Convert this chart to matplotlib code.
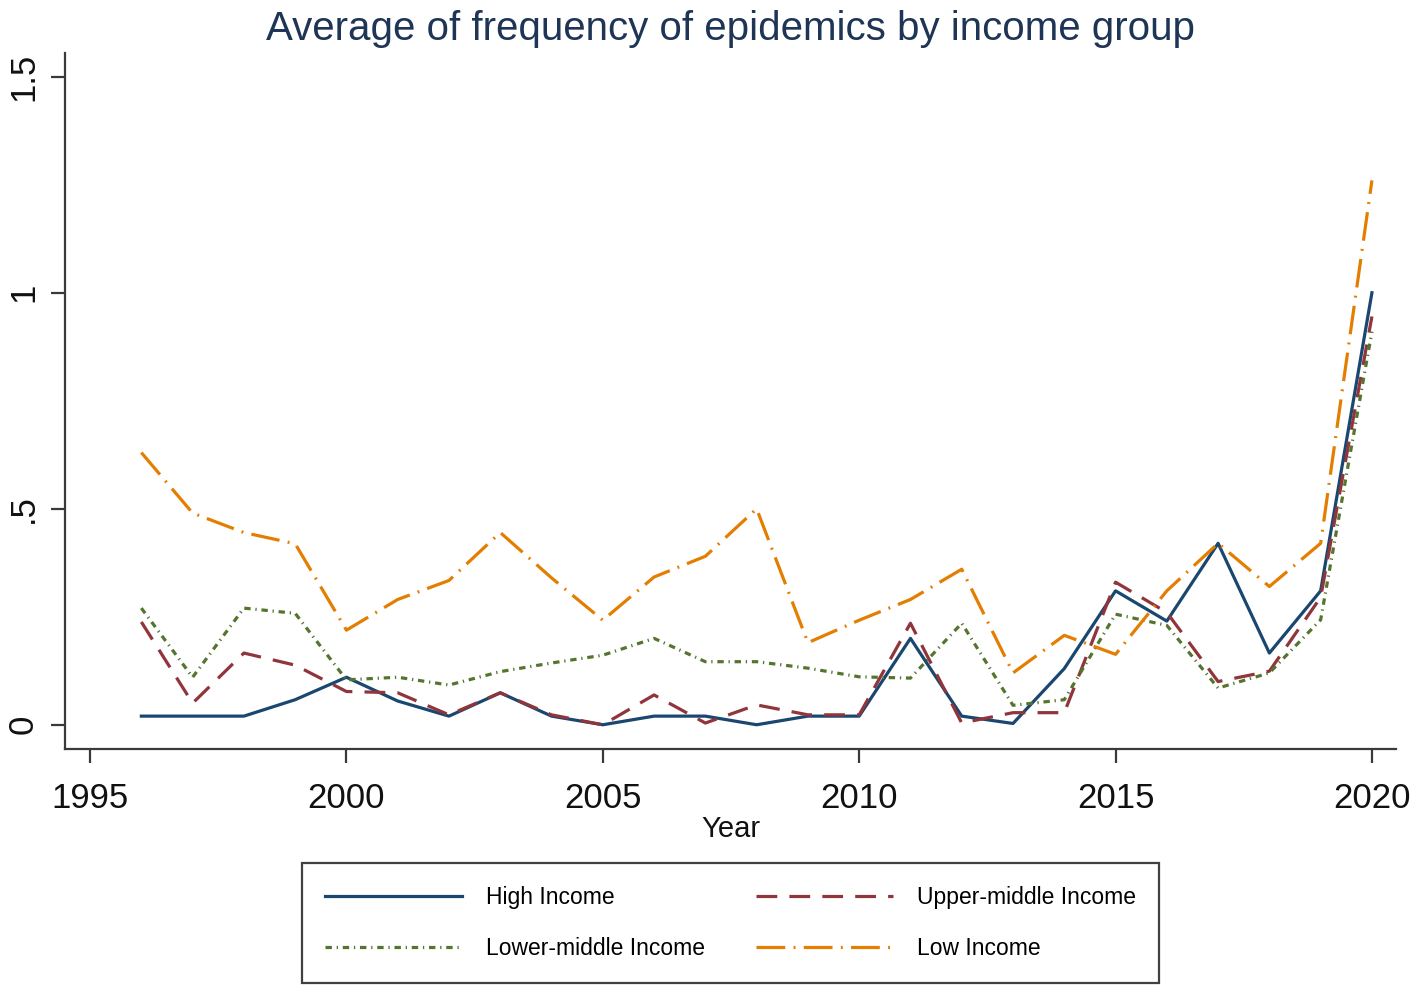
import matplotlib
matplotlib.use("Agg")
import matplotlib.pyplot as plt

years = list(range(1996, 2021))

high_income = [0.02, 0.02, 0.02, 0.058, 0.11, 0.055, 0.02, 0.074, 0.02, 0.0,
               0.02, 0.02, 0.0, 0.02, 0.02, 0.20, 0.02, 0.003, 0.13, 0.31,
               0.24, 0.42, 0.166, 0.31, 1.0]
upper_middle = [0.238, 0.05, 0.166, 0.138, 0.077, 0.074, 0.023, 0.074, 0.023, 0.0,
                0.069, 0.004, 0.046, 0.023, 0.023, 0.235, 0.004, 0.028, 0.028, 0.33,
                0.26, 0.10, 0.124, 0.295, 0.945]
lower_middle = [0.27, 0.11, 0.27, 0.258, 0.104, 0.11, 0.092, 0.123, 0.143, 0.161,
                0.20, 0.146, 0.146, 0.131, 0.111, 0.108, 0.235, 0.045, 0.058, 0.256,
                0.23, 0.085, 0.12, 0.243, 0.91]
low_income = [0.63, 0.49, 0.445, 0.419, 0.219, 0.29, 0.334, 0.445, 0.34, 0.242,
              0.342, 0.39, 0.5, 0.19, 0.242, 0.29, 0.36, 0.12, 0.207, 0.163,
              0.31, 0.42, 0.32, 0.42, 1.26]

labels = ["High Income", "Upper-middle Income", "Lower-middle Income", "Low Income"]
xticks = [1995, 2000, 2005, 2010, 2015, 2020]
yticks = [0, 0.5, 1, 1.5]
ytick_labels = ["0", ".5", "1", "1.5"]

plt.rcParams['font.family'] = ['Liberation Sans', 'DejaVu Sans']

fig = plt.figure(figsize=(14.18, 9.92), dpi=100)
ax = fig.add_axes([0.0458, 0.245, 0.9387, 0.7016])

lw = 2.3
l1, = ax.plot(years, high_income, color='#1a476f', lw=lw, ls='-', label=labels[0])
l2, = ax.plot(years, upper_middle, color='#90353b', lw=lw, ls=(0, (6.5, 3.8)), label=labels[1])
l3, = ax.plot(years, lower_middle, color='#55752f', lw=lw, ls=(0, (2.0, 1.5, 0.4, 1.5)), label=labels[2])
l4, = ax.plot(years, low_income, color='#e37e00', lw=lw, ls=(0, (9, 2.6, 0.6, 2.6)), label=labels[3])

ax.set_xlim(1994.51, 2020.47)
ax.set_ylim(-0.056, 1.555)
ax.set_xticks(xticks)
ax.set_yticks(yticks)
ax.set_yticklabels(ytick_labels, rotation=90, va='center')

for side in ['top', 'right']:
    ax.spines[side].set_visible(False)
for side in ['left', 'bottom']:
    ax.spines[side].set_color('#3a3a3a')
    ax.spines[side].set_linewidth(1.6)
ax.tick_params(axis='both', length=10, width=1.6, color='#3a3a3a', labelsize=25,
               labelcolor='#111111')
ax.tick_params(axis='x', pad=14)
ax.tick_params(axis='y', pad=8)

ax.set_xlabel("Year", fontsize=21, color='#111111', labelpad=0)
ax.set_title("Average of frequency of epidemics by income group", fontsize=29,
             color='#1f3556', pad=9)

# legend fills column by column, so order gives rows High/Upper, Lower/Low
leg = fig.legend([l1, l3, l2, l4], [labels[0], labels[2], labels[1], labels[3]],
                 loc='center', bbox_to_anchor=(0.5152, 0.0696), ncol=2,
                 frameon=True, fancybox=False, edgecolor='#111111',
                 prop={'size': 16.5},
                 handlelength=6.0, handletextpad=1.05, columnspacing=2.2,
                 borderpad=1.0, labelspacing=1.25, borderaxespad=0)
leg.get_frame().set_linewidth(1.6)

fig.savefig("out.png", dpi=100, facecolor='white')
